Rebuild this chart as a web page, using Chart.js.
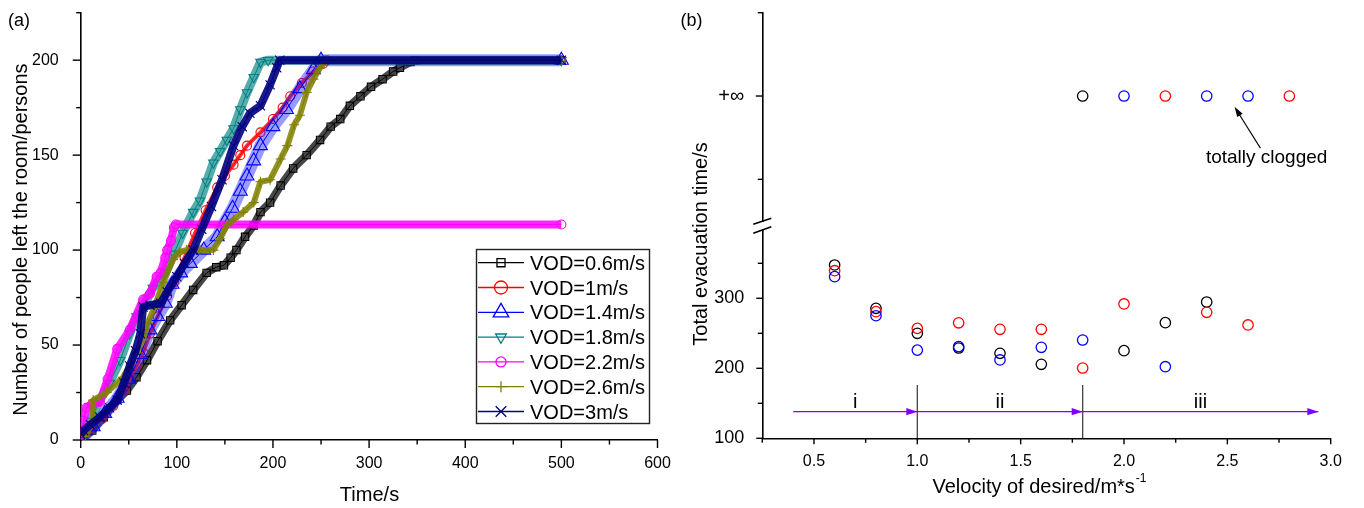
<!DOCTYPE html>
<html><head><meta charset="utf-8">
<script src="https://cdn.jsdelivr.net/npm/chart.js@4.4.1/dist/chart.umd.min.js"></script>
<style>
html,body{margin:0;padding:0;background:#fff;}
#wrap{position:relative;width:1364px;height:508px;overflow:hidden;background:#fff;}
canvas{position:absolute;top:0;}
</style></head><body>
<div id="wrap">
<canvas id="chartA" width="680" height="508" style="left:0;width:680px;height:508px"></canvas>
<canvas id="chartBLow" width="684" height="508" style="left:680px;width:684px;height:508px"></canvas>
<canvas id="chartBHigh" width="684" height="508" style="left:680px;width:684px;height:508px"></canvas>
</div>
<script>
// ---------------- DATA: panel (a) [time s, persons left] ----------------
const vod06 = [[0,0],[12,5],[24,12],[38,21],[48,26],[58,33],[69,42],[80,52],[93,63],[105,71],[117,79],[131,88],[141,91],[149,92],[156,96],[162,100],[171,107],[180,113],[187,120],[197,125],[208,134],[221,143],[235,150],[249,158],[260,165],[270,169],[280,176],[291,181],[302,186],[314,190],[325,194],[332,196],[343,199],[348,200],[500,200]];
const vod10 = [[0,2],[10,6],[22,11],[34,18],[45,26],[58,39],[65,46],[72,56],[80,65],[90,76],[97,83],[108,96],[119,109],[130,121],[142,133],[150,139],[159,145],[166,150],[173,155],[187,162],[200,169],[210,175],[218,181],[230,188],[242,194],[252,198],[256,200],[500,200]];
const vod14 = [[0,0],[13,7],[25,14],[38,22],[50,32],[62,45],[72,58],[80,65],[88,72],[95,82],[104,88],[114,93],[128,100],[142,107],[150,115],[158,122],[166,131],[173,139],[180,147],[187,155],[200,165],[214,174],[228,185],[242,195],[250,200],[500,200]];
const vod18 = [[0,2],[10,10],[20,21],[30,30],[41,42],[51,56],[58,65],[65,70],[75,80],[88,88],[97,98],[106,109],[117,120],[124,126],[131,136],[138,146],[145,152],[152,158],[159,164],[166,174],[173,183],[180,191],[187,199],[195,200],[500,200]];
const vod22 = [[0,3],[3,10],[6,17],[12,19],[20,20],[28,32],[38,48],[51,58],[65,74],[72,77],[79,86],[83,88],[88,96],[90,100],[94,105],[97,112],[99,113.5],[500,113.5]];
const vod26 = [[5,2],[13,10],[13,21],[27,25],[44,33],[52,40],[58,46],[65,53],[70,62],[76,69],[86,83],[96,95],[103,99],[110,100],[124,100],[138,100],[145,106],[152,113],[159,116],[169,120],[180,125],[187,136],[197,137],[208,148],[215,155],[222,166],[228,171],[235,183],[242,190],[249,196],[256,200],[500,200]];
const vod30 = [[0,3],[3,5],[10,8],[20,12],[30,17],[38,21],[45,30],[51,39],[57,47],[62,56],[65,70],[72,71],[83,72],[90,78],[100,86],[108,93],[117,100],[126,111],[136,123],[147,137],[159,155],[168,165],[176,172],[187,176],[197,187],[204,196],[207,200],[500,200]];
const seriesLabelsA = ['VOD=0.6m/s','VOD=1m/s','VOD=1.4m/s','VOD=1.8m/s','VOD=2.2m/s','VOD=2.6m/s','VOD=3m/s'];
const xTicksA = [0,100,200,300,400,500,600];
const xMinorA = [50,150,250,350,450,550];
const yTicksA = [0,50,100,150,200];
const yMinorA = [25,75,125,175,225];

// ---------------- DATA: panel (b) total evacuation time (s) ----------------
const velocities = [0.6,0.8,1.0,1.2,1.4,1.6,1.8,2.0,2.2,2.4,2.6,2.8];
const runBlack = [347.6,285.7,250,229,221.4,205.7,Infinity,225.2,265.2,294.7,null,null];
const runRed   = [339.4,280.9,257,265,255.7,255.7,200.4,291.9,Infinity,280,261.9,Infinity];
const runBlue  = [330.9,275.1,226,231,211.9,230,240.4,Infinity,202.3,Infinity,Infinity,null];
const xTicksB = [0.5,1.0,1.5,2.0,2.5,3.0];
const xMinorB = [0.25,0.75,1.25,1.75,2.25,2.75];
const yTicksBLow = [100,200,300];
const yMinorBLow = [150,250,350];
const phaseBounds = [0.4,1.0,1.8,2.94];
const phaseNames = ['i','ii','iii'];
const phaseArrowLevel = 138;
const phaseDividerTop = 176;

// ---------------- styling ----------------
const FONT = '"Liberation Sans", Arial, sans-serif';
Chart.defaults.font.family = FONT;
Chart.defaults.color = '#000';
const INF_LEVEL = 1.5; // position of the symbolic "+∞" on the upper broken-axis segment

const stylesA = [
  {c:'#000000', band:'rgba(0,0,0,0.72)', bw:8, ps:'rect', r:5.2, lr:5.7, rot:0},
  {c:'#ff0000', band:'rgba(255,0,0,0.8)', bw:4, ps:'circle', r:4.5, lr:6.5, rot:0},
  {c:'#0000ff', band:'rgba(30,30,255,0.45)', bw:12, ps:'triangle', r:8, lr:9, rot:0},
  {c:'#008080', band:'rgba(0,128,128,0.65)', bw:9, ps:'triangle', r:5.5, lr:6.2, rot:180},
  {c:'#ff00ff', band:'rgba(255,0,255,0.85)', bw:8, ps:'circle', r:4.5, lr:5, rot:0},
  {c:'#808000', band:'rgba(128,128,0,0.85)', bw:6, ps:'cross', r:5, lr:5.5, rot:0},
  {c:'#000080', band:'rgba(0,0,128,0.9)', bw:8, ps:'crossRot', r:6.5, lr:7.5, rot:0}
];
const seriesA = [vod06,vod10,vod14,vod18,vod22,vod26,vod30];

function drawMarker(ctx, style, x, y, r, rot, color){
  ctx.save(); ctx.strokeStyle=color; ctx.lineWidth=1.3; ctx.beginPath();
  if(style==='rect'){ const s=r*Math.SQRT1_2; ctx.rect(x-s,y-s,2*s,2*s); }
  else if(style==='circle'){ ctx.arc(x,y,r,0,Math.PI*2); }
  else if(style==='triangle'){ let a=rot*Math.PI/180; for(let k=0;k<3;k++){ const px=x+Math.sin(a)*r, py=y-Math.cos(a)*r; if(k===0) ctx.moveTo(px,py); else ctx.lineTo(px,py); a+=2*Math.PI/3;} ctx.closePath(); }
  else if(style==='cross'){ ctx.moveTo(x,y-r); ctx.lineTo(x,y+r); ctx.moveTo(x-r,y); ctx.lineTo(x+r,y); }
  else if(style==='crossRot'){ const s=r*Math.SQRT1_2; ctx.moveTo(x-s,y-s); ctx.lineTo(x+s,y+s); ctx.moveTo(x-s,y+s); ctx.lineTo(x+s,y-s); }
  ctx.stroke(); ctx.restore();
}

function tickDecor(specs){
  return { id:'tickDecor', afterDraw(chart){
    const ctx=chart.ctx; ctx.save(); ctx.strokeStyle='#000'; ctx.lineWidth=1.4;
    specs.forEach(s=>{ const sc=chart.scales[s.scale];
      s.values.forEach(v=>{ const p=sc.getPixelForValue(v); ctx.beginPath();
        if(s.side==='bottom'){ ctx.moveTo(p, sc.top); ctx.lineTo(p, sc.top+s.len); }
        else { ctx.moveTo(sc.right, p); ctx.lineTo(sc.right-s.len, p); }
        ctx.stroke(); }); });
    ctx.restore(); } };
}
const fixH = h => s => { s.height=h; s.paddingLeft=0; s.paddingRight=0; };
const fixW = w => s => { s.width=w; s.paddingTop=0; s.paddingBottom=0; };

// ---------------- chart (a) ----------------
const dsA = [];
seriesA.forEach((arr,i)=>{
  const st=stylesA[i]; const pts=arr.map(p=>({x:p[0],y:p[1]}));
  dsA.push({label:seriesLabelsA[i]+' band', data:pts, showLine:true, borderColor:st.band, borderWidth:st.bw,
    pointRadius:0, order:2*(6-i)+1, borderJoinStyle:'round'});
  dsA.push({label:seriesLabelsA[i], data:pts, showLine:true, borderColor:st.c, borderWidth:1,
    pointStyle:st.ps, pointRadius:st.r, pointRotation:st.rot, pointBorderColor:st.c,
    pointBackgroundColor:'rgba(0,0,0,0)', pointBorderWidth:1.1, order:2*(6-i)});
});

const decorA = { id:'decorA', afterDraw(chart){
  const ctx=chart.ctx; ctx.save(); ctx.fillStyle='#000';
  ctx.font='18px '+FONT; ctx.textAlign='left'; ctx.textBaseline='alphabetic';
  ctx.fillText('(a)', 8, 26);
  ctx.font='20px '+FONT; ctx.textAlign='center';
  ctx.fillText('Time/s', 369.5, 500.5);
  ctx.save(); ctx.translate(26.5, 239.6); ctx.rotate(-Math.PI/2);
  ctx.fillText('Number of people left the room/persons', 0, 0); ctx.restore();
  // legend
  ctx.strokeStyle='#222'; ctx.lineWidth=1.4; ctx.strokeRect(476.5,249.5,173,174);
  ctx.font='20px '+FONT; ctx.textAlign='left';
  seriesLabelsA.forEach((lab,i)=>{
    const st=stylesA[i]; const y=262.7+i*24.8;
    ctx.strokeStyle=st.c; ctx.lineWidth=1.3; ctx.beginPath(); ctx.moveTo(478,y); ctx.lineTo(524,y); ctx.stroke();
    drawMarker(ctx, st.ps, 501, y, st.lr, st.rot, st.c);
    ctx.fillStyle='#000'; ctx.fillText(lab, 530, y+7);
  });
  ctx.restore(); } };

new Chart(document.getElementById('chartA'), {
  type:'scatter',
  data:{datasets:dsA},
  options:{
    responsive:false, animation:false, events:[],
    layout:{padding:{top:12.7,right:22.5,left:0,bottom:0}},
    plugins:{legend:{display:false}, tooltip:{enabled:false}},
    scales:{
      x:{type:'linear', min:0, max:600,
        afterBuildTicks:s=>{ s.ticks=xTicksA.map(v=>({value:v})); },
        afterFit:fixH(68),
        grid:{display:false}, border:{display:true,color:'#000',width:1.6},
        ticks:{padding:6, font:{size:16}, maxRotation:0, autoSkip:false}},
      y:{type:'linear', min:0, max:225,
        afterBuildTicks:s=>{ s.ticks=yTicksA.map(v=>({value:v})); },
        afterFit:fixW(80.7),
        grid:{display:false}, border:{display:true,color:'#000',width:1.6},
        ticks:{padding:14, font:{size:16}, autoSkip:false}}
    }
  },
  plugins:[tickDecor([
    {scale:'x',values:xTicksA,len:8,side:'bottom'},{scale:'x',values:xMinorA,len:4.5,side:'bottom'},
    {scale:'y',values:yTicksA,len:8,side:'left'},{scale:'y',values:yMinorA,len:4.5,side:'left'}]), decorA]
});

// ---------------- chart (b) lower segment ----------------
const finitePts = arr => velocities.map((v,i)=>({x:v,y:arr[i]})).filter(p=>p.y!==null && isFinite(p.y));
const infPts = arr => velocities.map((v,i)=>({x:v,y:arr[i]})).filter(p=>p.y===Infinity).map(p=>({x:p.x,y:INF_LEVEL}));
const circ = (data,color,order)=>({data, showLine:false, pointStyle:'circle', pointRadius:5.2,
  pointBorderColor:color, pointBackgroundColor:'rgba(0,0,0,0)', pointBorderWidth:1.3, order});

const dsBLow = [
  circ(finitePts(runBlue),'#0000ff',0),
  circ(finitePts(runRed),'#ff0000',1),
  circ(finitePts(runBlack),'#000000',2),
  {data:[{x:phaseBounds[0],y:phaseArrowLevel},{x:phaseBounds[3],y:phaseArrowLevel}], showLine:true,
   borderColor:'#8000ff', borderWidth:1.3, pointRadius:0, order:5},
  {data:[{x:phaseBounds[1],y:100},{x:phaseBounds[1],y:phaseDividerTop}], showLine:true,
   borderColor:'#444', borderWidth:1.3, pointRadius:0, order:6},
  {data:[{x:phaseBounds[2],y:100},{x:phaseBounds[2],y:phaseDividerTop}], showLine:true,
   borderColor:'#444', borderWidth:1.3, pointRadius:0, order:6}
];

const decorBLow = { id:'decorBLow', afterDraw(chart){
  const ctx=chart.ctx, xs=chart.scales.x, ys=chart.scales.y; ctx.save();
  ctx.fillStyle='#8000ff';
  const ay=ys.getPixelForValue(phaseArrowLevel);
  phaseBounds.slice(1).forEach(b=>{ const px=xs.getPixelForValue(b); ctx.beginPath();
    ctx.moveTo(px,ay); ctx.lineTo(px-11,ay-3.6); ctx.lineTo(px-11,ay+3.6); ctx.closePath(); ctx.fill(); });
  ctx.fillStyle='#000'; ctx.font='20px '+FONT; ctx.textAlign='center'; ctx.textBaseline='alphabetic';
  phaseNames.forEach((n,i)=>{ const cx=(xs.getPixelForValue(phaseBounds[i])+xs.getPixelForValue(phaseBounds[i+1]))/2;
    ctx.fillText(n, cx, ay-3.5); });
  const lx=ys.right; ctx.strokeStyle='#000'; ctx.lineWidth=1.6;
  ctx.beginPath(); ctx.moveTo(lx-9,224.3); ctx.lineTo(lx+9,218.3); ctx.stroke();
  ctx.beginPath(); ctx.moveTo(lx-9,233.3); ctx.lineTo(lx+9,226.7); ctx.stroke();
  ctx.font='18px '+FONT; ctx.textAlign='left'; ctx.fillText('(b)', 0.5, 26);
  ctx.font='20px '+FONT; ctx.textAlign='left';
  const main='Velocity of desired/m*s', sup='-1';
  const wm=ctx.measureText(main).width; ctx.font='12px '+FONT; const ws=ctx.measureText(sup).width;
  const x0=359-(wm+ws)/2; ctx.font='20px '+FONT; ctx.fillText(main, x0, 493.3);
  ctx.font='12px '+FONT; ctx.fillText(sup, x0+wm+1, 482);
  ctx.font='20px '+FONT; ctx.textAlign='center';
  ctx.save(); ctx.translate(26.5, 244); ctx.rotate(-Math.PI/2); ctx.fillText('Total evacuation time/s',0,0); ctx.restore();
  ctx.restore(); } };

new Chart(document.getElementById('chartBLow'), {
  type:'scatter',
  data:{datasets:dsBLow},
  options:{
    responsive:false, animation:false, events:[],
    layout:{padding:{top:230,right:33.3,left:0,bottom:0}},
    plugins:{legend:{display:false}, tooltip:{enabled:false}},
    scales:{
      x:{type:'linear', min:0.25, max:3.0,
        afterBuildTicks:s=>{ s.ticks=xTicksB.map(v=>({value:v})); },
        afterFit:fixH(69.7),
        grid:{display:false}, border:{display:true,color:'#000',width:1.6},
        ticks:{padding:6, font:{size:16}, maxRotation:0, autoSkip:false, callback:v=>Number(v).toFixed(1)}},
      y:{type:'linear', min:100, max:100+(438.3-230)/0.7,
        afterBuildTicks:s=>{ s.ticks=yTicksBLow.map(v=>({value:v})); },
        afterFit:fixW(82.3),
        grid:{display:false}, border:{display:true,color:'#000',width:1.6},
        ticks:{padding:10, font:{size:18}, autoSkip:false}}
    }
  },
  plugins:[tickDecor([
    {scale:'x',values:xTicksB,len:6,side:'bottom'},{scale:'x',values:xMinorB,len:4.5,side:'bottom'},
    {scale:'y',values:yTicksBLow,len:6,side:'left'},{scale:'y',values:yMinorBLow,len:4.5,side:'left'}]), decorBLow]
});

// ---------------- chart (b) upper segment (+∞) ----------------
const dsBHigh = [
  circ(infPts(runBlue),'#0000ff',0),
  circ(infPts(runRed),'#ff0000',1),
  circ(infPts(runBlack),'#000000',2)
];
const decorBHigh = { id:'decorBHigh', afterDraw(chart){
  const ctx=chart.ctx, xs=chart.scales.x, ys=chart.scales.y; ctx.save();
  const tx=xs.getPixelForValue(2.66), ty=ys.getPixelForValue(0.875);
  const hx=xs.getPixelForValue(2.535), hy=ys.getPixelForValue(1.37);
  ctx.strokeStyle='#000'; ctx.fillStyle='#000'; ctx.lineWidth=1.1;
  const ang=Math.atan2(hy-ty,hx-tx);
  ctx.beginPath(); ctx.moveTo(tx,ty); ctx.lineTo(hx-Math.cos(ang)*6,hy-Math.sin(ang)*6); ctx.stroke();
  ctx.beginPath(); ctx.moveTo(hx,hy);
  ctx.lineTo(hx-Math.cos(ang)*10+Math.sin(ang)*3.2, hy-Math.sin(ang)*10-Math.cos(ang)*3.2);
  ctx.lineTo(hx-Math.cos(ang)*10-Math.sin(ang)*3.2, hy-Math.sin(ang)*10+Math.cos(ang)*3.2);
  ctx.closePath(); ctx.fill();
  ctx.font='19px '+FONT; ctx.textAlign='center'; ctx.textBaseline='alphabetic';
  ctx.fillText('totally clogged', xs.getPixelForValue(2.69), ys.getPixelForValue(0.70));
  ctx.restore(); } };

new Chart(document.getElementById('chartBHigh'), {
  type:'scatter',
  data:{datasets:dsBHigh},
  options:{
    responsive:false, animation:false, events:[],
    layout:{padding:{top:12.7,right:33.3,left:0,bottom:287}},
    plugins:{legend:{display:false}, tooltip:{enabled:false}},
    scales:{
      x:{type:'linear', min:0.25, max:3.0, display:false},
      y:{type:'linear', min:0, max:2.5,
        afterBuildTicks:s=>{ s.ticks=[{value:INF_LEVEL}]; },
        afterFit:fixW(82.3),
        grid:{display:false}, border:{display:true,color:'#000',width:1.6},
        ticks:{padding:10, font:{size:20}, autoSkip:false, callback:()=> '+\u221E'}}
    }
  },
  plugins:[tickDecor([
    {scale:'y',values:[INF_LEVEL],len:6.5,side:'left'},{scale:'y',values:[0.5,2.5],len:4.5,side:'left'}]), decorBHigh]
});
</script>
</body></html>
